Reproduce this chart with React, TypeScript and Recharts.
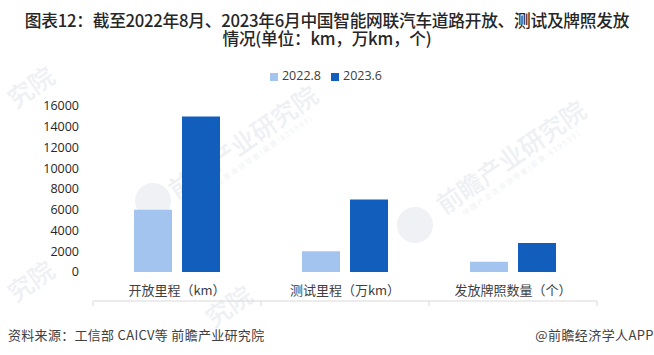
import { BarChart, Bar, XAxis, YAxis, Legend } from 'recharts';

const categories = ['开放里程（km）', '测试里程（万km）', '发放牌照数量（个）'];
const values2022 = [6000, 2000, 1000];
const values2023 = [15000, 7000, 2800];
const yTicks = [0, 2000, 4000, 6000, 8000, 10000, 12000, 14000, 16000];
const edgeTicks = [0, 1, 2, 3];

// faint background stamps, partly cut off in the source so only part of the name is kept at the edges
const watermarks = [
  { x: 245, y: 140, w: 190, text: '前瞻产业研究院', sub: '中国产业咨询领导者(股票:839599)' },
  { x: 513, y: 155, w: 190, text: '前瞻产业研究院', sub: '中国产业咨询领导者(股票:839599)' },
  { x: 30, y: 86, w: 50, text: '究院', sub: '' },
  { x: 30, y: 280, w: 50, text: '究院', sub: '' },
  { x: 228, y: 305, w: 50, text: '究院', sub: '' },
];
const stamps = [
  { x: 153, y: 201 },
  { x: 415, y: 225 },
];

const FONT = '"Noto Sans CJK SC", "Noto Sans", sans-serif';
const CHART_FONT = '"Open Sans", "Noto Sans CJK SC", sans-serif';

const data = categories.map((name, i) => ({
  name,
  idx: i + 0.5,
  a: values2022[i],
  b: values2023[i],
}));

export default function App() {
  return (
    <div style={{ position: 'absolute', left: 0, top: 0, width: 654, height: 355, overflow: 'hidden', background: '#fff' }}>
      {stamps.map((s, i) => (
        <div
          key={i}
          style={{
            position: 'absolute',
            left: s.x - 18,
            top: s.y - 18,
            width: 36,
            height: 36,
            borderRadius: 18,
            background: '#eff1f5',
          }}
        />
      ))}
      {watermarks.map((w, i) => (
        <div
          key={i}
          style={{
            position: 'absolute',
            left: w.x - w.w / 2,
            top: w.y - 15,
            width: w.w,
            textAlign: 'center',
            fontFamily: FONT,
            color: '#eef0f4',
            whiteSpace: 'nowrap',
            transform: 'rotate(-35deg)',
          }}
        >
          <div style={{ fontSize: 25, lineHeight: '30px', fontWeight: 500 }}>{w.text}</div>
          {w.sub && <div style={{ fontSize: 7, lineHeight: '10px', letterSpacing: 1.8, color: '#f0f2f5' }}>{w.sub}</div>}
        </div>
      ))}
      <div
        style={{
          position: 'absolute',
          left: 0,
          top: 11,
          width: 654,
          textAlign: 'center',
          fontFamily: FONT,
          fontWeight: 500,
          fontSize: 16.7,
          lineHeight: '18px',
          letterSpacing: -0.25,
          color: '#262626',
        }}
      >
        图表12：截至2022年8月、2023年6月中国智能网联汽车道路开放、测试及牌照发放
        <br />
        情况(单位：km，万km，个)
      </div>
      <div style={{ position: 'absolute', left: 0, top: 0 }}>
        <BarChart
          width={654}
          height={355}
          data={data}
          margin={{ top: 89, right: 57, bottom: 53, left: 0 }}
          barCategoryGap={41}
          barGap={10}
        >
          <YAxis
            type="number"
            domain={[0, 16000]}
            ticks={yTicks}
            interval={0}
            width={93}
            axisLine={false}
            tickLine={false}
            tickMargin={8}
            tick={{ fontSize: 12.5, fill: '#262626', fontFamily: CHART_FONT }}
          />
          <XAxis
            xAxisId="edges"
            dataKey="idx"
            type="number"
            domain={[0, 3]}
            ticks={edgeTicks}
            interval={0}
            height={1}
            tickSize={5}
            tickFormatter={() => ''}
            axisLine={{ stroke: '#d9d9d9' }}
            tickLine={{ stroke: '#d9d9d9' }}
          />
          <XAxis
            dataKey="name"
            interval={0}
            height={29}
            axisLine={false}
            tickLine={false}
            tickMargin={8}
            tick={{ fontSize: 13, fill: '#404040', fontFamily: FONT }}
          />
          <Legend
            verticalAlign="top"
            align="center"
            iconType="square"
            iconSize={8}
            wrapperStyle={{ top: 67, left: 4, width: 654, fontSize: 12.5, fontFamily: CHART_FONT }}
            formatter={(value) => <span style={{ color: '#404040' }}>{value}</span>}
          />
          <Bar dataKey="a" name="2022.8" fill="#a3c4ef" isAnimationActive={false} />
          <Bar dataKey="b" name="2023.6" fill="#115ebd" isAnimationActive={false} />
        </BarChart>
      </div>
      <div style={{ position: 'absolute', left: 8, top: 326, fontFamily: FONT, fontSize: 13, lineHeight: '18px', letterSpacing: 0.3, color: '#404040' }}>
        资料来源：工信部 CAICV等 前瞻产业研究院
      </div>
      <div style={{ position: 'absolute', right: 0, top: 326, fontFamily: FONT, fontSize: 13, lineHeight: '18px', letterSpacing: 0.4, color: '#404040' }}>
        @前瞻经济学人APP
      </div>
    </div>
  );
}
